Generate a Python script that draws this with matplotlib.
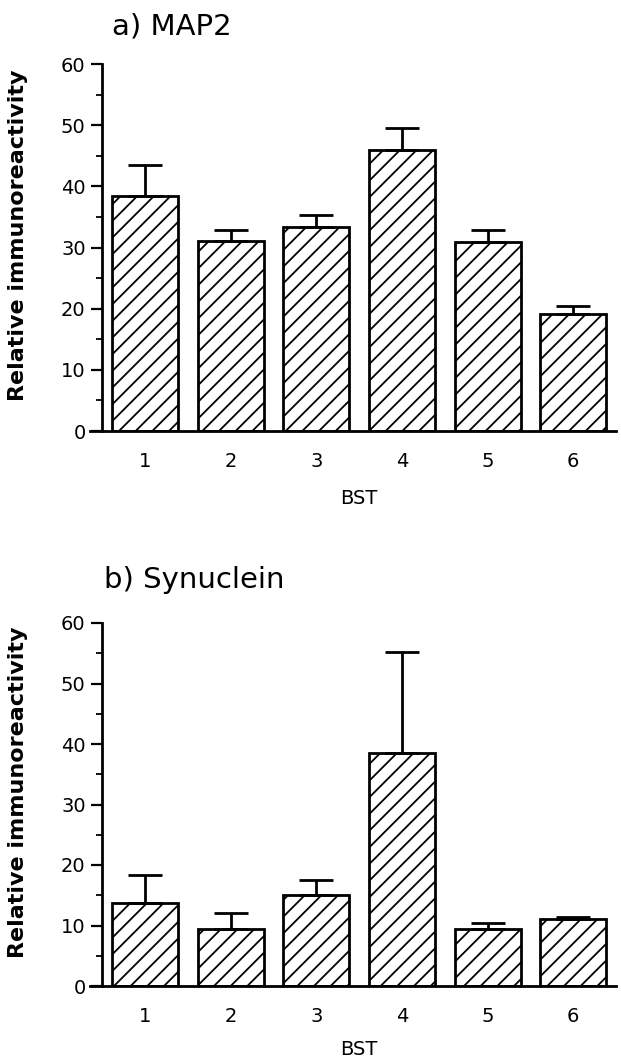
import numpy as np
import matplotlib.pyplot as plt
from matplotlib.ticker import MultipleLocator

plt.rcParams['font.family'] = 'DejaVu Sans'
plt.rcParams['hatch.linewidth'] = 1.3

groups = ['1', '2', '3', '4', '5', '6']
map2_mean = [38.4, 31.0, 33.4, 45.9, 30.9, 19.2]
map2_sem = [5.1, 1.9, 1.9, 3.7, 1.9, 1.2]
syn_mean = [13.8, 9.5, 15.0, 38.5, 9.5, 11.0]
syn_sem = [4.6, 2.6, 2.6, 16.7, 0.9, 0.4]

fig = plt.figure(figsize=(6.21, 10.6), dpi=100)
ax1 = fig.add_axes([90/621, 1-431/1060, 526/621, 367/1060])
ax2 = fig.add_axes([90/621, 1-986/1060, 526/621, 363/1060])

x = np.arange(1, len(groups) + 1)

def panel(ax, mean, sem):
    ax.bar(x, mean, width=0.77, color='white', edgecolor='black',
           linewidth=2, hatch='//', zorder=2)
    ax.errorbar(x, mean, yerr=[np.zeros(len(sem)), sem], fmt='none',
                ecolor='black', elinewidth=2, capsize=12, capthick=2, zorder=3)
    ax.set_xlim(0.355, 6.5)
    ax.set_ylim(0, 60)
    ax.spines['top'].set_visible(False)
    ax.spines['right'].set_visible(False)
    ax.spines['left'].set_position(('data', 0.5))
    ax.spines['left'].set_bounds(0, 60)
    ax.spines['left'].set_linewidth(2)
    ax.spines['bottom'].set_linewidth(2)
    ax.yaxis.set_major_locator(MultipleLocator(10))
    ax.yaxis.set_minor_locator(MultipleLocator(5))
    ax.tick_params(axis='y', which='major', direction='out', length=8,
                   width=1.6, labelsize=14, pad=4)
    ax.tick_params(axis='y', which='minor', direction='out', length=4, width=1.3)
    ax.set_xticks(x)
    ax.set_xticklabels(groups)
    ax.tick_params(axis='x', length=0, labelsize=14, pad=15)
    ax.set_xlabel('BST', fontsize=14)
    ax.set_ylabel('Relative immunoreactivity', fontsize=16, fontweight='bold')
    ax.yaxis.set_label_coords(-0.118, 0.534)

panel(ax1, map2_mean, map2_sem)
panel(ax2, syn_mean, syn_sem)
ax1.xaxis.set_label_coords(0.511, -0.158)
ax2.xaxis.set_label_coords(0.511, -0.15)

fig.text(112/621, 1-26/1060, 'a) MAP2', fontsize=21, va='center')
fig.text(104/621, 1-580/1060, 'b) Synuclein', fontsize=21, va='center')

plt.savefig('out.png', dpi=100)
